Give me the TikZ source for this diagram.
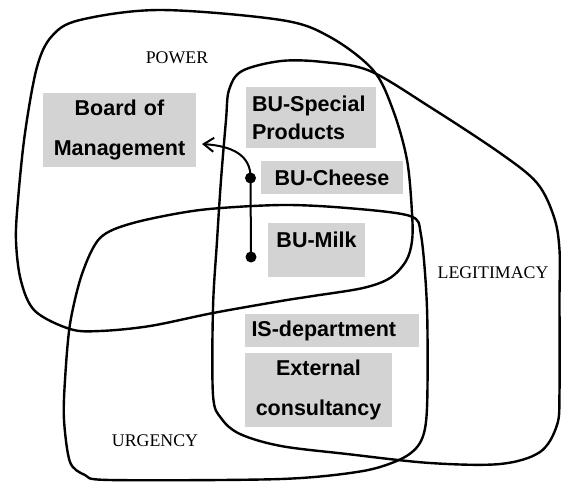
\documentclass[tikz,border=0pt]{standalone}
\usepackage{fontspec}
\setmainfont{Liberation Serif}
\newfontfamily\boxfont{Liberation Sans}
\usetikzlibrary{arrows.meta}
\definecolor{boxgray}{RGB}{211,211,211}
\tikzset{
  setline/.style={line width=2.4pt, line join=round},
  boxstyle/.style={rectangle, fill=boxgray, inner xsep=6pt, inner ysep=0pt,
    font=\boxfont\bfseries\fontsize{21.5}{40}\selectfont},
  setlabel/.style={inner sep=0pt, font=\fontsize{17.8}{20}\selectfont},
  dotstyle/.style={circle, fill=black, minimum size=11pt, inner sep=0pt},
  arrowline/.style={line width=2pt, -{Straight Barb[length=10pt,width=14pt,line width=2pt]}}
}
\begin{document}
\begin{tikzpicture}[x=1pt,y=-1pt]
\useasboundingbox (0,0) rectangle (561,482);
% POWER
\draw[setline] plot[smooth cycle, tension=0.55] coordinates {
 (37,67) (52,36) (80,20) (160,10) (281,20) (330,37) (373,70) (393,110)
 (407,160) (412,213) (412,241) (406,261) (390,278) (363,288) (313,296)
 (281,301) (213,313) (150,326) (100,331) (70,329) (35,311) (21,281)
 (16,241) (18,200) (25,133)};
% LEGITIMACY
\draw[setline] plot[smooth cycle, tension=0.55] coordinates {
 (229,90) (242,71) (281,61) (323,62) (370,71) (430,107) (500,153)
 (537,183) (554,217) (559.5,250) (559.5,300) (559.5,391) (557,425)
 (540,452) (500,464) (430,463) (347,454) (281,446) (240,434) (221,418)
 (213,395) (213,308) (217,241) (221,180) (226,120)};
% URGENCY
\draw[setline] plot[smooth cycle, tension=0.5] coordinates {
 (100,238) (133,223) (200,210) (281,205) (347,208) (410,216) (421,235)
 (427,308) (427,408) (421,441) (403,458) (363,471) (281,479) (110,480)
 (85,475) (70,462) (64,420) (65,380) (70,324) (82,274)};
% boxes
\node[boxstyle, text width=141pt, minimum height=74pt, align=center] (board) at (119.5,130) {Board of\\Management};
\node[boxstyle, text width=118pt, minimum height=61pt, align=left, font=\boxfont\bfseries\fontsize{21.5}{28}\selectfont] (special) at (311,117.5) {BU-Special\\Products};
\node[boxstyle, text width=130pt, minimum height=33pt, align=center] (cheese) at (332,177.5) {BU-Cheese};
\node[boxstyle, text width=85pt, minimum height=54pt] (milk) at (316.5,250) {};
\node[inner sep=0pt, font=\boxfont\bfseries\fontsize{21.5}{40}\selectfont] (milktext) at (316.5,240) {BU-Milk};
\node[boxstyle, text width=161pt, minimum height=33pt, align=left, inner xsep=6.5pt] (isdep) at (332,330.5) {IS-department};
\node[boxstyle, text width=135pt, minimum height=74pt, align=center] (ext) at (318.5,390) {External\\consultancy};
% labels
\node[setlabel] (power) at (177,58) {POWER};
\node[setlabel] (legit) at (493,273) {LEGITIMACY};
\node[setlabel] (urg) at (155,441) {URGENCY};
% connector
\node[dotstyle] (dmilk) at (251,257) {};
\node[dotstyle] (dcheese) at (250.5,178) {};
\coordinate (tip) at (202,144);
\draw[arrowline] (dmilk.center) -- (dcheese.center) .. controls (251,155) and (232,146) .. (tip);
\end{tikzpicture}
\end{document}
